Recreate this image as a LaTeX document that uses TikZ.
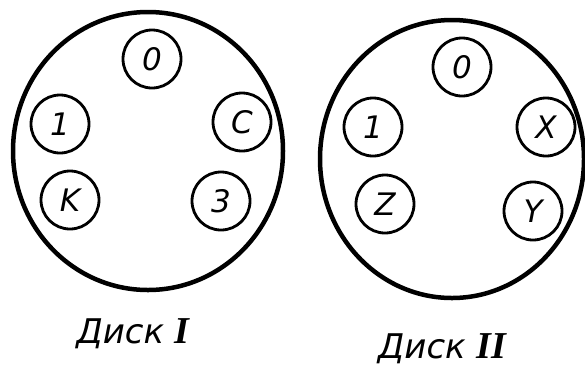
\documentclass[tikz,border=0pt]{standalone}
\usepackage{fontspec}
\setmainfont{DejaVu Sans}
\newfontfamily\romfont{Liberation Serif}
\begin{document}
\begin{tikzpicture}[x=1pt,y=-1pt,
  disk/.style={draw,line width=4.5pt},
  hole/.style={draw,circle,line width=2.8pt,minimum size=58pt,inner sep=0pt,font=\fontsize{31}{31}\selectfont\itshape},
  caption/.style={inner sep=0pt,anchor=base,font=\fontsize{34}{34}\selectfont\itshape}]
\useasboundingbox (0,0) rectangle (585,365);
% Disk I
\draw[disk] (148,151) ellipse [x radius=135, y radius=139];
\node[hole] (a0) at (152,59) {0};
\node[hole] (a1) at (60,124) {1};
\node[hole] (aC) at (242,122) {C};
\node[hole] (aK) at (70,200) {K};
\node[hole] (a3) at (221,201) {3};
\node[caption] (capI) at (133,343) {Диск {\romfont\bfseries\fontsize{38}{38}\selectfont I}};
% Disk II
\draw[disk] (452,159) ellipse [x radius=132, y radius=139];
\node[hole] (b0) at (462,67) {0};
\node[hole] (b1) at (373,127) {1};
\node[hole] (bX) at (546,127) {X};
\node[hole] (bZ) at (385,204) {Z};
\node[hole] (bY) at (533,211) {Y};
\node[caption] (capII) at (442,358) {Диск {\romfont\bfseries\fontsize{38}{38}\selectfont II}};
\end{tikzpicture}
\end{document}
